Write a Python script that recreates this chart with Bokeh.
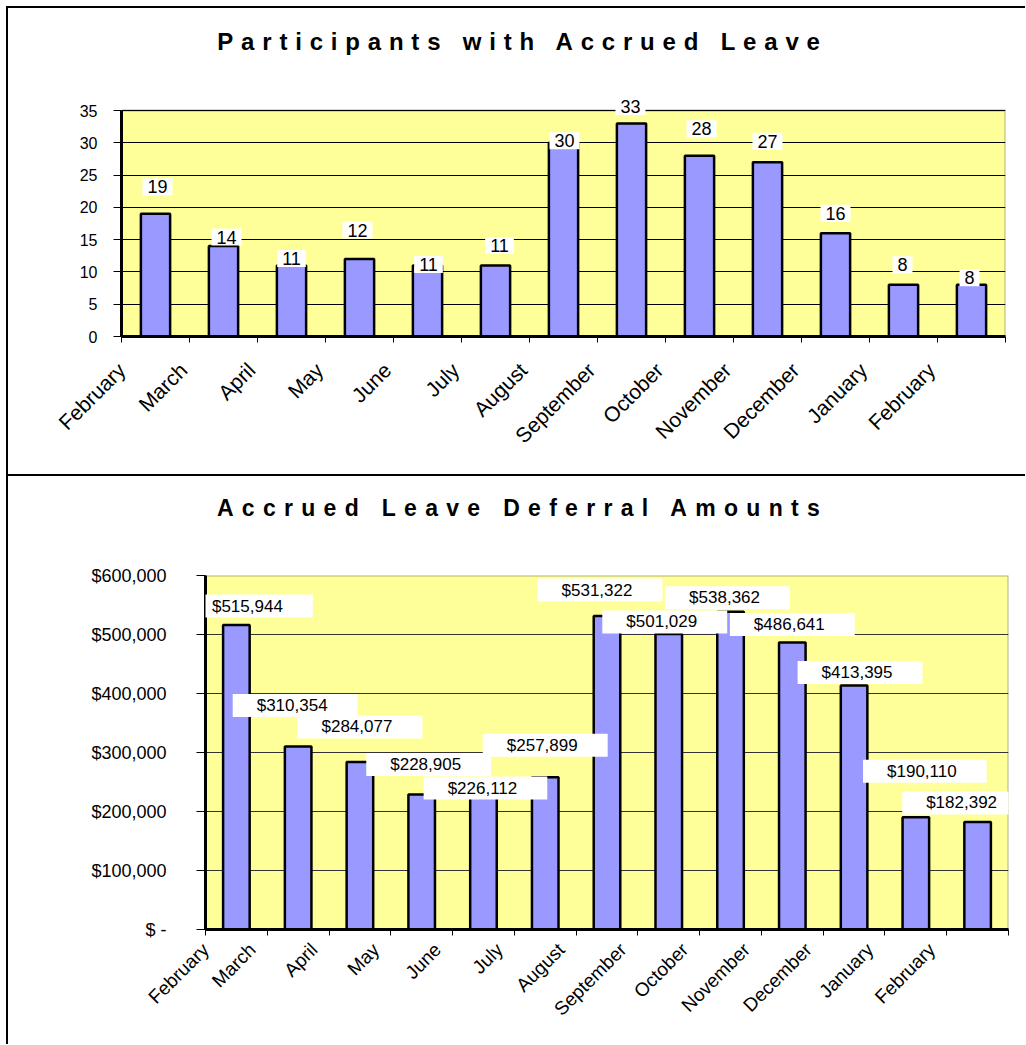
import math
from bokeh.plotting import figure
from bokeh.models import (FixedTicker, Label, Div, NumeralTickFormatter, Range1d,
                          BoxAnnotation, LinearAxis)
from bokeh.layouts import column, row
from bokeh.embed import file_html
from bokeh.resources import INLINE

# ---------------- data ----------------
months = ["February", "March", "April", "May", "June", "July", "August",
          "September", "October", "November", "December", "January", "February"]
participants = [19, 14, 11, 12, 11, 11, 30, 33, 28, 27, 16, 8, 8]
amounts = [515944, 310354, 284077, 228905, 226112, 257899, 531322,
           501029, 538362, 486641, 413395, 190110, 182392]
participant_ticks = [0, 5, 10, 15, 20, 25, 30, 35]
amount_ticks = [0, 100000, 200000, 300000, 400000, 500000, 600000]

title_top = "Participants with Accrued Leave"
title_bottom = "Accrued Leave Deferral Amounts"

# ---------------- label layout (pixel offsets, as in the original) ----------------
part_label_dy = [27, 9, 7, 29, 1, 20, 2, 17, 27, 21, 20, 20, 7]
part_label_dx = [2, 3, 0, -2, 1, 4, 1, -1, 2, 0, 0, -1, -2]
amt_label_dy = [19, 41, 35, 30, 8, 32, 26, 12, 14, 18, 13, 46, 19]
amt_label_dx = [14, -3, 0, 7, 2, 0, -7, -4, -3, 0, 6, 9, -13]

FONT = "Liberation Sans"
BAR_FILL = "#9999FF"
PLOT_BG = "#FFFF99"
W = 1017


def black_line(width, height):
    return Div(text="", width=width, height=height, margin=0,
               styles={"background-color": "black"})


def title_div(text, height, line_height, font_size, spacing, indent):
    return Div(text=text, width=W, height=height, margin=0,
               styles={"font-family": FONT, "font-weight": "bold",
                       "font-size": f"{font_size}px",
                       "letter-spacing": f"{spacing}px",
                       "text-align": "center", "line-height": f"{line_height}px",
                       "text-indent": f"{indent}px", "color": "black",
                       "white-space": "nowrap"})


def make_chart(values, ticks, ymax, head_px, frame_px, height, borders, tick_font,
               month_font, label_font, label_texts, dxs, dys, label_pad, grid_color,
               ytick_out, ystandoff, xstandoff, month_shift):
    n = len(months)
    left, right, top, bottom = borders
    # extra head room above the value axis so that labels above the frame stay visible
    y_view_end = ymax * (frame_px + head_px) / frame_px
    p = figure(width=W, height=height, x_range=Range1d(0, n),
               y_range=Range1d(0, y_view_end),
               output_backend="svg", toolbar_location=None, title=None,
               min_border_left=left, min_border_right=right,
               min_border_top=top, min_border_bottom=bottom, margin=0)
    p.frame_align = False
    p.background_fill_color = "white"
    p.border_fill_color = "white"
    p.outline_line_color = None

    # the yellow plot area with its black border
    p.add_layout(BoxAnnotation(left=0, right=n, bottom=0, top=ymax,
                               fill_color=PLOT_BG, fill_alpha=1.0,
                               line_color="black", line_width=2, level="image"))

    p.xgrid.visible = False
    p.ygrid.grid_line_color = grid_color
    p.ygrid.grid_line_width = 1

    # y axis
    p.yaxis.ticker = FixedTicker(ticks=ticks)
    p.yaxis.bounds = (0, ymax)
    p.yaxis.axis_line_color = "black"
    p.yaxis.axis_line_width = 3
    p.yaxis.major_tick_line_color = "black"
    p.yaxis.major_tick_line_width = 1
    p.yaxis.major_tick_out = ytick_out
    p.yaxis.major_tick_in = 0
    p.yaxis.minor_tick_line_color = None
    p.yaxis.major_label_text_font = FONT
    p.yaxis.major_label_text_font_size = f"{tick_font}px"
    p.yaxis.major_label_text_color = "black"
    p.yaxis.major_label_standoff = ystandoff

    # x axis: tick marks on the category boundaries (no labels here)
    p.xaxis.ticker = FixedTicker(ticks=list(range(n + 1)))
    p.xaxis.major_label_overrides = {i: "" for i in range(n + 1)}
    p.xaxis.major_label_text_font_size = "1px"
    p.xaxis.major_label_standoff = 0
    p.xaxis.axis_line_color = "black"
    p.xaxis.axis_line_width = 3
    p.xaxis.major_tick_line_color = "black"
    p.xaxis.major_tick_line_width = 1
    p.xaxis.major_tick_out = 6
    p.xaxis.major_tick_in = 0
    p.xaxis.minor_tick_line_color = None

    # month names: a label-only axis, slightly left of the boundaries as in the original
    # (the first one cannot go left of the plot area, so it stays on the first boundary)
    p.extra_x_ranges = {"months": Range1d(month_shift, n + month_shift)}
    label_ticks = [month_shift] + list(range(1, n))
    month_axis = LinearAxis(x_range_name="months",
                            ticker=FixedTicker(ticks=label_ticks),
                            major_label_overrides=dict(zip(label_ticks, months)),
                            major_label_orientation=math.pi / 4,
                            axis_line_color=None, major_tick_line_color=None,
                            minor_tick_line_color=None, major_tick_out=0,
                            major_tick_in=0, major_label_standoff=xstandoff,
                            major_label_text_font=FONT,
                            major_label_text_font_size=f"{month_font}px",
                            major_label_text_color="black")
    p.add_layout(month_axis, "below")

    centers = [i + 0.5 for i in range(n)]
    p.vbar(x=centers, top=values, width=0.43, fill_color=BAR_FILL,
           line_color="black", line_width=2.5)

    for xc, v, t, dx, dy in zip(centers, values, label_texts, dxs, dys):
        p.add_layout(Label(x=xc, y=v, text=t, x_offset=dx, y_offset=dy,
                           text_align="center", text_baseline="middle",
                           text_font=FONT, text_font_size=f"{label_font}px",
                           text_color="black", background_fill_color="white",
                           padding=label_pad))
    return p


# top chart: frame 226 px for 0..35 plus 20 px head room
p1 = make_chart(participants, participant_ticks, 35, 20, 226, 400, (113, 20, 16, 138),
                16, 21, 18, [str(v) for v in participants],
                part_label_dx, part_label_dy, dict(left=5, right=5, top=2, bottom=2),
                "black", 8, 16, 24, 0.09)

# bottom chart: frame 354 px for 0..600,000, no head room needed
p2 = make_chart(amounts, amount_ticks, 600000, 0, 354, 502, (197, 17, 33, 115),
                18, 19, 17, [f"${v:,}" for v in amounts],
                amt_label_dx, amt_label_dy, dict(left=24, right=30, top=2, bottom=2),
                "#333333", 9, 30, 11, 0.24)
p2.yaxis.formatter = NumeralTickFormatter(format="$0,0")
p2.yaxis.major_label_overrides = {0: "$ -"}

inner = column(
    title_div(title_top, 66, 67, 24, 7.8, 12),
    p1,
    black_line(W, 2),
    title_div(title_bottom, 66, 64, 23, 8.3, 12),
    p2,
    spacing=0, margin=0,
)
layout = column(black_line(W + 2, 2),
                row(black_line(2, 1036), inner, spacing=0, margin=0),
                spacing=0, margin=(6, 0, 0, 6))

open("out.html", "w").write(file_html(layout, INLINE))
